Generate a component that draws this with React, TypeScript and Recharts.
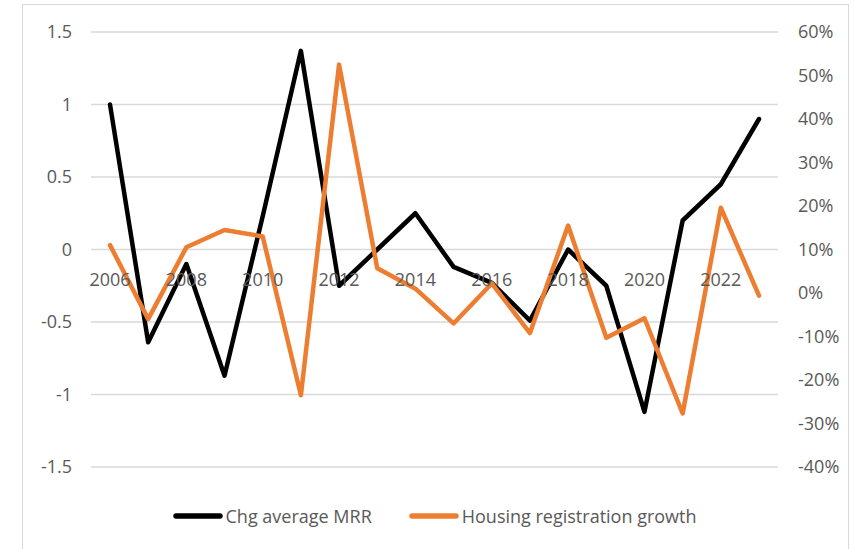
import React from 'react';
import { LineChart, Line, XAxis, YAxis, CartesianGrid, Legend } from 'recharts';

const years = ['2006', '2007', '2008', '2009', '2010', '2011', '2012', '2013', '2014', '2015', '2016', '2017', '2018', '2019', '2020', '2021', '2022', '2023'];
const mrrChange = [1.0, -0.64, -0.1, -0.87, 0.23, 1.37, -0.25, 0, 0.25, -0.12, -0.23, -0.49, 0, -0.25, -1.12, 0.2, 0.45, 0.9];
const housingGrowth = [11, -6, 10.5, 14.5, 13, -23.5, 52.5, 5.7, 1, -7, 2.2, -9.2, 15.5, -10.3, -5.8, -27.7, 19.6, -0.6];
const leftTicks = [-1.5, -1, -0.5, 0, 0.5, 1, 1.5];
const rightTicks = [-40, -30, -20, -10, 0, 10, 20, 30, 40, 50, 60];
const seriesNames = ['Chg average MRR', 'Housing registration growth'];
const seriesColors = ['#000000', '#ED7D31'];

const data = years.map((y, i) => ({ year: y, mrr: mrrChange[i], housing: housingGrowth[i] }));

const W = 854;
const H = 549;
const MARGIN = { top: 32, right: 16, left: 31, bottom: 11 };
const LEGEND_H = 70;
const X_AXIS_H = 1;
const PLOT_H = H - MARGIN.top - MARGIN.bottom - LEGEND_H - X_AXIS_H;
const LEFT_MIN = leftTicks[0];
const LEFT_MAX = leftTicks[leftTicks.length - 1];
const FONT = '"Open Sans", "Liberation Sans", sans-serif';
const TEXT = '#595959';

const YearTick = (props: any) => {
  const { x, y, payload } = props;
  const zeroOffset = (PLOT_H * (0 - LEFT_MIN)) / (LEFT_MAX - LEFT_MIN);
  return (
    <text x={x} y={y - zeroOffset + 36} textAnchor="middle" fill={TEXT} fontSize={18} fontFamily={FONT}>
      {payload.value}
    </text>
  );
};

const LegendContent = () => (
  <div style={{ height: LEGEND_H, boxSizing: 'border-box', paddingTop: 36, display: 'flex', justifyContent: 'center', alignItems: 'flex-start', fontFamily: FONT, fontSize: 18, color: TEXT }}>
    {seriesNames.map((name, i) => (
      <div key={name} style={{ display: 'flex', alignItems: 'center', marginLeft: i === 0 ? 0 : 37, height: 24 }}>
        <svg width={50} height={8} style={{ marginRight: 3 }}>
          <line x1={3} y1={4} x2={47} y2={4} stroke={seriesColors[i]} strokeWidth={5.5} strokeLinecap="round" />
        </svg>
        <span style={{ lineHeight: '24px' }}>{name}</span>
      </div>
    ))}
  </div>
);

export default function App() {
  return (
    <div style={{ position: 'fixed', left: 0, top: 0, width: W, height: H, overflow: 'hidden', background: '#fff' }}>
      <div style={{ position: 'absolute', left: 22, top: 4, width: 827, height: 600, border: '1.5px solid #d9d9d9', boxSizing: 'border-box' }} />
      <div style={{ position: 'absolute', left: 0, top: 0 }}>
        <LineChart width={W} height={H} data={data} margin={MARGIN}>
          <CartesianGrid yAxisId="left" vertical={false} stroke="#d9d9d9" strokeWidth={1.5} />
          <XAxis
            dataKey="year"
            interval={1}
            axisLine={false}
            tickLine={false}
            tickSize={0}
            tickMargin={0}
            height={X_AXIS_H}
            padding={{ left: 19, right: 19 }}
            tick={<YearTick />}
          />
          <YAxis
            yAxisId="left"
            orientation="left"
            domain={[LEFT_MIN, LEFT_MAX]}
            ticks={leftTicks}
            width={60}
            axisLine={false}
            tickLine={false}
            tickSize={0}
            tickMargin={19}
            tick={{ fill: TEXT, fontSize: 18, fontFamily: FONT }}
          />
          <YAxis
            yAxisId="right"
            orientation="right"
            domain={[rightTicks[0], rightTicks[rightTicks.length - 1]]}
            ticks={rightTicks}
            width={60}
            axisLine={false}
            tickLine={false}
            tickSize={0}
            tickMargin={20}
            tickFormatter={(v: number) => `${v}%`}
            tick={{ fill: TEXT, fontSize: 18, fontFamily: FONT }}
          />
          <Legend verticalAlign="bottom" height={LEGEND_H} content={<LegendContent />} />
          <Line yAxisId="left" dataKey="mrr" name={seriesNames[0]} stroke={seriesColors[0]} strokeWidth={4.5} dot={false} strokeLinejoin="round" strokeLinecap="round" isAnimationActive={false} />
          <Line yAxisId="right" dataKey="housing" name={seriesNames[1]} stroke={seriesColors[1]} strokeWidth={4.5} dot={false} strokeLinejoin="round" strokeLinecap="round" isAnimationActive={false} />
        </LineChart>
      </div>
    </div>
  );
}
